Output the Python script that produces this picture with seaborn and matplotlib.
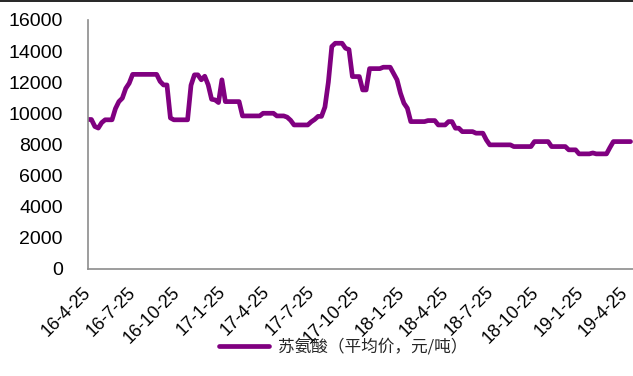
import pandas as pd
import numpy as np
import seaborn as sns
import matplotlib.pyplot as plt

# weekly average price of threonine, yuan/ton, starting 2016-04-25
prices = [
    9600, 9600, 9150, 9050, 9400, 9580, 9580, 9580, 10300, 10750,
    10970, 11600, 11930, 12500, 12500, 12500, 12500, 12500, 12500, 12500,
    12500, 12050, 11820, 11820, 9700, 9580, 9580, 9580, 9580, 9580,
    11800, 12470, 12470, 12150, 12380, 11830, 10900, 10860, 10690, 12150,
    10750, 10750, 10750, 10750, 10750, 9830, 9830, 9830, 9830, 9830,
    9830, 10000, 10000, 10000, 10000, 9830, 9830, 9830, 9750, 9550,
    9250, 9250, 9250, 9250, 9250, 9450, 9600, 9800, 9800, 10400,
    12000, 14290, 14500, 14500, 14500, 14180, 14100, 12360, 12360, 12360,
    11500, 11500, 12870, 12870, 12870, 12870, 12960, 12960, 12960, 12550,
    12150, 11290, 10650, 10325, 9465, 9465, 9465, 9465, 9465, 9530,
    9530, 9530, 9250, 9250, 9250, 9465, 9465, 9040, 9040, 8820,
    8820, 8820, 8820, 8720, 8720, 8720, 8290, 7970, 7970, 7970,
    7970, 7970, 7970, 7970, 7860, 7860, 7860, 7860, 7860, 7860,
    8180, 8180, 8180, 8180, 8180, 7860, 7860, 7860, 7860, 7860,
    7650, 7650, 7650, 7390, 7390, 7390, 7390, 7450, 7390, 7390,
    7390, 7390, 7800, 8180, 8180, 8180, 8180, 8180, 8180,
]
tick_labels = ['16-4-25', '16-7-25', '16-10-25', '17-1-25', '17-4-25', '17-7-25', '17-10-25',
               '18-1-25', '18-4-25', '18-7-25', '18-10-25', '19-1-25', '19-4-25']
y_ticks = [0, 2000, 4000, 6000, 8000, 10000, 12000, 14000, 16000]
series_name = '苏氨酸（平均价，元/吨）'

df = pd.DataFrame({'date': pd.date_range('2016-04-25', periods=len(prices), freq='7D'),
                   'price': prices})

sns.set_style('white')
plt.rcParams['font.family'] = ['Liberation Sans', 'Noto Sans CJK SC', 'DejaVu Sans']

fig = plt.figure(figsize=(6.33, 3.76), dpi=100)
ax = fig.add_axes([0.139, 0.285, 0.861, 0.662])

purple = '#800080'
sns.lineplot(data=df, x='date', y='price', color=purple, linewidth=3.4,
             label=series_name, ax=ax, legend=False)

tick_dates = pd.to_datetime(tick_labels, format='%y-%m-%d')
ax.set_xlim(tick_dates[0], pd.Timestamp('2019-05-11'))
ax.set_xticks(tick_dates)
ax.set_xticklabels(tick_labels, rotation=45, ha='right', va='center',
                   rotation_mode='anchor', fontsize=13)
ax.set_ylim(0, 16000)
ax.set_yticks(y_ticks)
ax.set_yticklabels([str(v) for v in y_ticks], fontsize=14)
ax.set_xlabel('')
ax.set_ylabel('')

for s in ['top', 'right']:
    ax.spines[s].set_visible(False)
for s in ['left', 'bottom']:
    ax.spines[s].set_color('#8c8c8c')
    ax.spines[s].set_linewidth(1.2)
ax.tick_params(axis='both', direction='in', length=3.5, width=1.2, color='#8c8c8c',
               labelcolor='black')
ax.tick_params(axis='y', pad=18)
ax.tick_params(axis='x', pad=15)

handles, labels = ax.get_legend_handles_labels()
fig.legend(handles, labels, loc='center', bbox_to_anchor=(0.542, 0.077), frameon=False,
           handlelength=3.0, handletextpad=0.5,
           prop={'family': ['Noto Sans CJK SC'], 'size': 12})

# thin black border line along the top edge, as in the reference
fig.add_artist(plt.Line2D([0, 1], [0.998, 0.998], color='black', linewidth=1.2,
                          transform=fig.transFigure))

fig.savefig('out.png', dpi=100)
